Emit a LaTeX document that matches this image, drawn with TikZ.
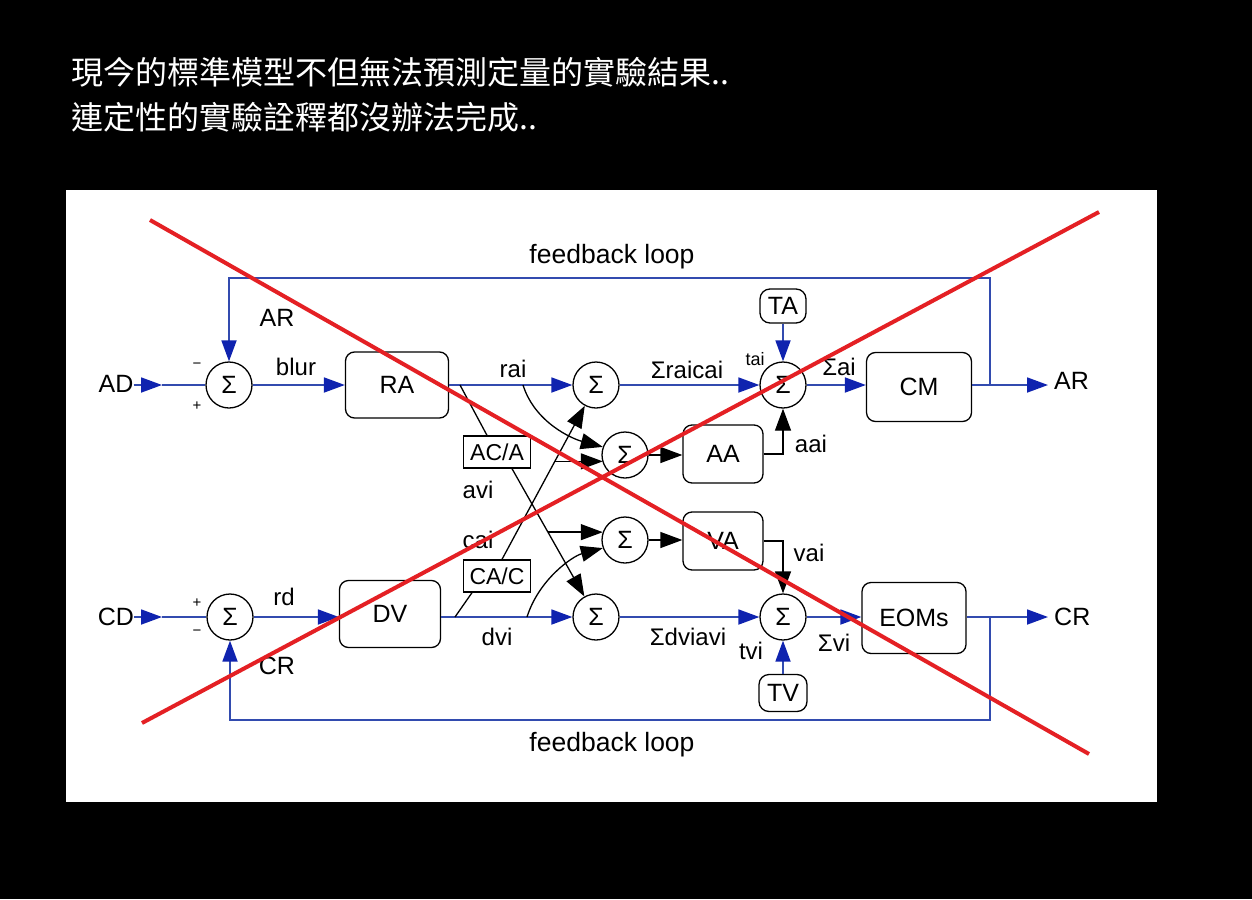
\documentclass[tikz,border=0pt]{standalone}
\usepackage{fontspec}
\setmainfont{Liberation Sans}
\newfontfamily\cjk{Noto Sans CJK TC}
\usetikzlibrary{arrows.meta,calc}
\definecolor{lineblue}{RGB}{50,75,175}
\definecolor{tipblue}{RGB}{15,35,175}
\definecolor{xred}{RGB}{228,32,36}
\begin{document}
\begin{tikzpicture}[x=1pt,y=-1pt,
  sig/.style={circle,draw,line width=1.3pt,minimum size=46pt,inner sep=0pt,font=\fontsize{25}{25}\selectfont},
  blk/.style={draw,rounded corners=9pt,line width=1.3pt,inner sep=0pt,font=\fontsize{25}{25}\selectfont},
  sqb/.style={draw,line width=1.3pt,inner sep=0pt,minimum width=67pt,minimum height=32pt,font=\fontsize{23}{23}\selectfont},
  lab/.style={inner sep=0pt,font=\fontsize{24}{24}\selectfont},
  fbl/.style={inner sep=0pt,font=\fontsize{26.5}{26.5}\selectfont},
  big/.style={inner sep=0pt,font=\fontsize{25}{25}\selectfont},
  sml/.style={inner sep=0pt,font=\fontsize{18}{18}\selectfont},
  pm/.style={inner sep=0pt,font=\fontsize{15}{15}\selectfont},
  bl/.style={draw=lineblue,line width=1.8pt},
  barr/.style={bl,-{Triangle[length=21pt,width=15pt,color=tipblue]}},
  kl/.style={draw=black,line width=1.3pt},
  karr/.style={kl,-{Triangle[length=22pt,width=16pt]}},
  redx/.style={draw=xred,line width=4pt}]
\fill[black] (0,0) rectangle (1252,899);
\useasboundingbox (0,0) rectangle (1252,899);
\fill[white] (66,190) rectangle (1157,802);
% title
\node[anchor=west,text=white,inner sep=0pt,font=\cjk\fontsize{32}{32}\selectfont] (t1) at (71,72) {現今的標準模型不但無法預測定量的實驗結果..};
\node[anchor=west,text=white,inner sep=0pt,font=\cjk\fontsize{32}{32}\selectfont] (t2) at (71,117) {連定性的實驗詮釋都沒辦法完成..};
% nodes top row
\node[big] (AD) at (116,384) {AD};
\node[sig] (s1) at (229,385) {Σ};
\node[blk,minimum width=103pt,minimum height=66pt] (RA) at (397,385) {RA};
\node[sig] (sTop) at (596,385) {Σ};
\node[sig] (sTai) at (783,385) {Σ};
\node[blk,minimum width=105pt,minimum height=69pt] (CM) at (919,387) {CM};
\node[blk,rounded corners=10pt,minimum width=46pt,minimum height=34pt] (TA) at (783,306) {TA};
\node[big,anchor=west] (ARo) at (1054,381) {AR};
% middle
\node[sig] (sAA) at (625,455) {Σ};
\node[blk,minimum width=80pt,minimum height=58pt] (AA) at (723,454) {AA};
\node[sqb] (acA) at (497,452) {AC/A};
\node[sig] (sVA) at (625,540) {Σ};
\node[blk,minimum width=80pt,minimum height=58pt] (VA) at (723,541) {VA};
\node[sqb] (caC) at (497,576) {CA/C};
% bottom row
\node[big] (CD) at (116,617) {CD};
\node[sig] (s2) at (230,617) {Σ};
\node[blk,minimum width=101pt,minimum height=67pt] (DV) at (390,614) {DV};
\node[sig] (sDv) at (596,617) {Σ};
\node[sig] (sTv) at (783,617) {Σ};
\node[blk,minimum width=104pt,minimum height=71pt] (EOM) at (914,618) {EOMs};
\node[blk,rounded corners=10pt,minimum width=48pt,minimum height=37pt] (TV) at (783,693) {TV};
\node[big,anchor=west] (CRo) at (1054,617) {CR};
% labels
\node[fbl] (fb1) at (612,257) {feedback loop};
\node[fbl] (fb2) at (612,745) {feedback loop};
\node[big] (lAR) at (277,318) {AR};
\node[big] (lCR) at (277,666) {CR};
\node[lab] (lblur) at (296,367) {blur};
\node[lab] (lrd) at (284,597) {rd};
\node[lab] (lrai) at (513,369) {rai};
\node[lab] (lrc) at (687,370) {Σraicai};
\node[sml] (ltai) at (755,359) {tai};
\node[lab] (lai) at (839,367) {Σai};
\node[lab] (laai) at (811,444) {aai};
\node[lab] (lavi) at (478,490) {avi};
\node[lab] (lcai) at (478,540) {cai};
\node[lab] (lvai) at (809,553) {vai};
\node[lab] (ldvi) at (497,637) {dvi};
\node[lab] (ldv) at (688,637) {Σdviavi};
\node[lab] (ltvi) at (751,651) {tvi};
\node[lab] (lvi) at (834,643) {Σvi};
\node[pm] (m1) at (197,366) {−};
\node[pm] (p1) at (197,406) {+};
\node[pm] (p2) at (197,603) {+};
\node[pm] (m2) at (197,633) {−};
% coordinates
\coordinate (adT) at (162,385);
\coordinate (cdT) at (162,617);
\coordinate (fbR) at (990,385);
\coordinate (fbTop) at (990,278);
\coordinate (fbR2) at (990,617);
\coordinate (fbBot) at (990,720);
\coordinate (arT) at (1048,385);
\coordinate (crT) at (1048,617);
\coordinate (raiB) at (460,385);
\coordinate (raiC) at (523,385);
\coordinate (dvB) at (455,617);
\coordinate (dviC) at (527,617);
% top row connectors
\draw[barr] (AD.east |- adT) -- (adT);
\draw[bl] (adT) -- (s1.west);
\draw[barr] (s1.east) -- (s1.east -| RA.west);
\draw[barr] (RA.east) -- (sTop.west);
\draw[barr] (sTop.east) -- (sTai.west);
\draw[barr] (sTai.east) -- (sTai.east -| CM.west);
\draw[barr] (CM.east |- arT) -- (arT);
\draw[barr] (TA.south) -- (sTai.north);
\draw[barr] (fbR) -- (fbTop) -| (s1.north);
% bottom row connectors
\draw[barr] (CD.east |- cdT) -- (cdT);
\draw[bl] (cdT) -- (s2.west);
\draw[barr] (s2.east) -- (s2.east -| DV.west);
\draw[barr] (DV.east |- sDv.west) -- (sDv.west);
\draw[barr] (sDv.east) -- (sTv.west);
\draw[barr] (sTv.east) -- (sTv.east -| EOM.west);
\draw[barr] (EOM.east |- crT) -- (crT);
\draw[barr] (TV.north) -- (sTv.south);
\draw[barr] (fbR2) -- (fbBot) -| (s2.south);
% cross links
\draw[karr] (sAA.east) -- (AA.west |- sAA.east);
\draw[karr] (sVA.east) -- (VA.west |- sVA.east);
\draw[karr] (AA.east) -| (sTai.south);
\draw[karr] (VA.east) -| (sTv.north);
\draw[kl] (raiB) -- ([xshift=-10pt]acA.north);
\draw[kl] (dvB) -- ([xshift=-25pt]caC.south);
\coordinate (acS) at ([xshift=15pt]acA.south);
\coordinate (caN) at ([xshift=5pt]caC.north);
\draw[karr] (acS) -- (sDv);
\draw[karr] (caN) -- (sTop);
\coordinate (b1) at ($(caN)!0.562!(sTop.center)$);
\coordinate (b2) at ($(acS)!0.428!(sDv.center)$);
\draw[karr] (b1) -- (b1 -| sAA.200);
\draw[karr] (b2) -- (b2 -| sVA.160);
\draw[karr] (raiC) .. controls ($(raiC)+(12,38)$) and ($(sAA.160)+(-30,-8)$) .. (sAA.160);
\draw[karr] (dviC) .. controls ($(dviC)+(12,-38)$) and ($(sVA.200)+(-30,8)$) .. (sVA.200);
% red cross
\coordinate (r1a) at (150,220);
\coordinate (r1b) at (1089,754);
\coordinate (r2a) at (142,723);
\coordinate (r2b) at (1099,212);
\draw[redx] (r1a) -- (r1b);
\draw[redx] (r2a) -- (r2b);
\end{tikzpicture}
\end{document}
